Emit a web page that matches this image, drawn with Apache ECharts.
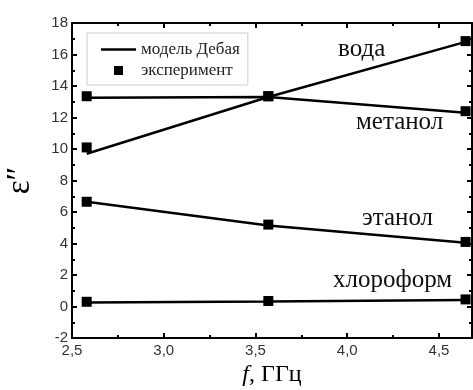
<!DOCTYPE html>
<html><head><meta charset="utf-8">
<script src="https://cdn.jsdelivr.net/npm/echarts@6/dist/echarts.min.js"></script>
<style>html,body{margin:0;padding:0;background:#fff}#c{width:473px;height:390px}</style>
</head><body><div id="c"></div>
<script>
const freq = [2.58, 3.57, 4.645];
const waterModel = [9.7, 13.3, 16.8];
const waterExp = [10.1, 13.35, 16.85];
const methanolModel = [13.25, 13.3, 12.3];
const methanolExp = [13.35, 13.35, 12.4];
const ethanolModel = [6.65, 5.15, 4.05];
const ethanolExp = [6.65, 5.2, 4.1];
const chloroformModel = [0.25, 0.32, 0.42];
const chloroformExp = [0.3, 0.35, 0.45];
const xTickLabels = {2.5:'2,5',3:'3,0',3.5:'3,5',4:'4,0',4.5:'4,5'};
const names = ['вода','метанол','этанол','хлороформ'];

const pairs = (ys) => freq.map((x,i)=>[x, ys[i]]);
const models = [waterModel, methanolModel, ethanolModel, chloroformModel];
const exps = [waterExp, methanolExp, ethanolExp, chloroformExp];
const series = [];
models.forEach(m => series.push({
  name:'модель Дебая', type:'line', data: pairs(m), symbol:'none',
  lineStyle:{color:'#000', width:2.5}, itemStyle:{color:'#000'}, z:2
}));
exps.forEach(e => series.push({
  name:'эксперимент', type:'scatter', data: pairs(e), symbol:'rect', symbolSize:10,
  itemStyle:{color:'#000', opacity:1}, z:3
}));

const axisCommon = {
  axisLine:{show:true, onZero:false, lineStyle:{color:'#000', width:2}},
  axisTick:{show:true, inside:true, length:5, lineStyle:{color:'#000', width:2}},
  minorTick:{show:true, splitNumber:2, length:3, lineStyle:{color:'#000', width:2}},
  splitLine:{show:false}
};
const chart = echarts.init(document.getElementById('c'));
chart.setOption({
  animation:false,
  grid:{left:72, right:1, top:23, bottom:52, containLabel:false, outerBoundsMode:'none'},
  legend:{
    orient:'vertical', left:87, top:33, itemWidth:35, itemHeight:9, itemGap:4,
    padding:[8,8,6,14], borderColor:'#ccc', borderWidth:1,
    textStyle:{fontFamily:'Liberation Serif', fontSize:17, color:'#222'},
    data:[{name:'модель Дебая', icon:'path://M0,0L35,0L35,2.5L0,2.5Z'},{name:'эксперимент', icon:'path://M0,0L10,0L10,10L0,10Z'}]
  },
  xAxis:[
    Object.assign({type:'value', min:2.5, max:4.68, interval:0.5, position:'bottom',
      axisLabel:{formatter:v=>xTickLabels[v]||'', fontFamily:'Liberation Sans', fontSize:15, color:'#333', margin:5, showMaxLabel:false},
      name:'{i|f}, ГГц', nameLocation:'middle', nameGap:24,
      nameTextStyle:{fontFamily:'Liberation Serif', fontSize:24, color:'#000', rich:{i:{fontStyle:'italic', fontFamily:'Liberation Serif', fontSize:24}}}
    }, axisCommon),
    Object.assign({type:'value', min:2.5, max:4.68, interval:0.5, position:'top', axisLabel:{show:false}}, axisCommon)
  ],
  yAxis:[
    Object.assign({type:'value', min:-2, max:18, interval:2, position:'left',
      axisLabel:{fontFamily:'Liberation Sans', fontSize:15, color:'#333', margin:4},
      name:'ε″', nameLocation:'middle', nameRotate:90, nameGap:35,
      nameTextStyle:{fontFamily:'Liberation Serif', fontSize:33, color:'#000'}
    }, axisCommon),
    Object.assign({type:'value', min:-2, max:18, interval:2, position:'right', axisLabel:{show:false}}, axisCommon)
  ],
  graphic:[
    {type:'text', left:338, top:37, style:{text:names[0], fontFamily:'Liberation Serif', fontSize:25, fill:'#111'}},
    {type:'text', left:356, top:110, style:{text:names[1], fontFamily:'Liberation Serif', fontSize:25, fill:'#111'}},
    {type:'text', left:362, top:206, style:{text:names[2], fontFamily:'Liberation Serif', fontSize:25, fill:'#111'}},
    {type:'text', left:333, top:268, style:{text:names[3], fontFamily:'Liberation Serif', fontSize:25, fill:'#111'}}
  ],
  series
});
</script></body></html>
